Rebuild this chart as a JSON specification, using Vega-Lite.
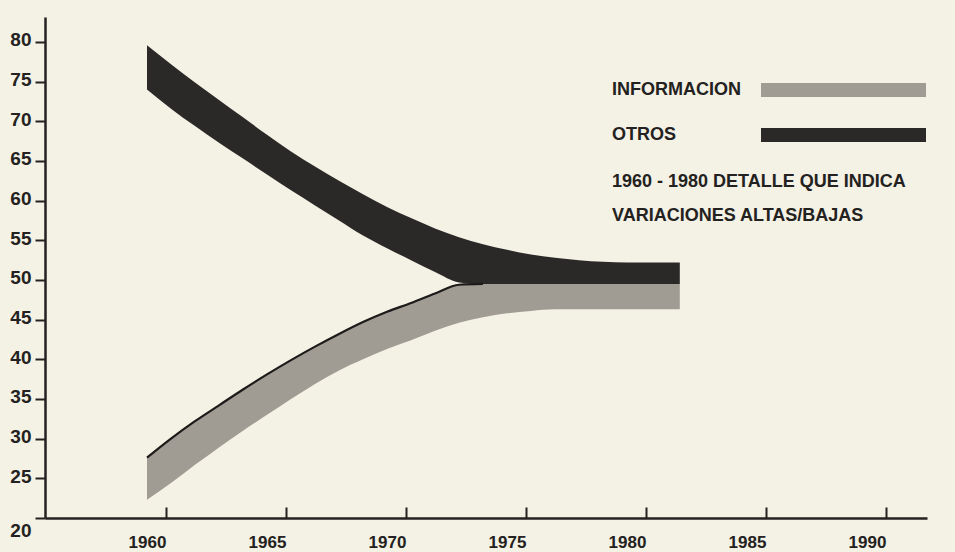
{
  "$schema": "https://vega.github.io/schema/vega-lite/v6.json",
  "width": 882,
  "height": 501,
  "autosize": {"type": "none"},
  "padding": {"left": 45, "top": 17, "right": 28, "bottom": 34},
  "background": "#f4f1e5",
  "title": {
    "text": ["1960 - 1980 DETALLE QUE INDICA", "VARIACIONES ALTAS/BAJAS"],
    "orient": "top",
    "anchor": "start",
    "frame": "group",
    "baseline": "top",
    "offset": 0,
    "dx": 567,
    "dy": 208,
    "lineHeight": 34,
    "font": "Liberation Sans",
    "fontSize": 18,
    "fontWeight": "bold",
    "color": "#232220"
  },
  "config": {
    "view": {"stroke": null},
    "axis": {
      "domainColor": "#232220",
      "domainWidth": 2.5,
      "tickColor": "#232220",
      "tickWidth": 2,
      "labelColor": "#232220",
      "labelFont": "Liberation Sans",
      "labelFontWeight": "bold",
      "labelFontSize": 18,
      "grid": false,
      "title": null
    },
    "legend": {
      "orient": "none",
      "legendX": 715,
      "legendY": 64,
      "direction": "vertical",
      "padding": 0,
      "symbolType": "M-1,-0.875H19.625V0.875H-1Z",
      "symbolSize": 256,
      "symbolStrokeWidth": 0,
      "symbolOpacity": 1,
      "rowPadding": 27,
      "labelAlign": "left",
      "labelBaseline": "middle",
      "labelOffset": -166,
      "labelFont": "Liberation Sans",
      "labelFontWeight": "bold",
      "labelFontSize": 18,
      "labelColor": "#232220",
      "labelLimit": 0
    }
  },
  "datasets": {
    "bands": [
      {"serie": "OTROS", "year": 1960, "high": 79.6, "low": 74.0},
      {"serie": "OTROS", "year": 1961, "high": 77.2, "low": 71.6},
      {"serie": "OTROS", "year": 1962, "high": 74.9, "low": 69.4},
      {"serie": "OTROS", "year": 1963, "high": 72.7, "low": 67.3},
      {"serie": "OTROS", "year": 1964, "high": 70.5, "low": 65.3},
      {"serie": "OTROS", "year": 1965, "high": 68.3, "low": 63.3},
      {"serie": "OTROS", "year": 1966, "high": 66.2, "low": 61.3},
      {"serie": "OTROS", "year": 1967, "high": 64.3, "low": 59.4},
      {"serie": "OTROS", "year": 1968, "high": 62.5, "low": 57.5},
      {"serie": "OTROS", "year": 1969, "high": 60.8, "low": 55.6},
      {"serie": "OTROS", "year": 1970, "high": 59.2, "low": 54.0},
      {"serie": "OTROS", "year": 1971, "high": 57.8, "low": 52.5},
      {"serie": "OTROS", "year": 1972, "high": 56.5, "low": 51.0},
      {"serie": "OTROS", "year": 1973, "high": 55.4, "low": 49.7},
      {"serie": "OTROS", "year": 1974, "high": 54.5, "low": 49.5},
      {"serie": "OTROS", "year": 1975, "high": 53.8, "low": 49.5},
      {"serie": "OTROS", "year": 1976, "high": 53.2, "low": 49.5},
      {"serie": "OTROS", "year": 1977, "high": 52.8, "low": 49.5},
      {"serie": "OTROS", "year": 1978, "high": 52.5, "low": 49.5},
      {"serie": "OTROS", "year": 1979, "high": 52.3, "low": 49.5},
      {"serie": "OTROS", "year": 1980, "high": 52.2, "low": 49.5},
      {"serie": "OTROS", "year": 1981, "high": 52.2, "low": 49.5},
      {"serie": "OTROS", "year": 1982.2, "high": 52.2, "low": 49.5},
      {"serie": "INFORMACION", "year": 1960, "high": 27.6, "low": 22.3},
      {"serie": "INFORMACION", "year": 1961, "high": 30.0, "low": 24.4},
      {"serie": "INFORMACION", "year": 1962, "high": 32.2, "low": 26.7},
      {"serie": "INFORMACION", "year": 1963, "high": 34.2, "low": 28.9},
      {"serie": "INFORMACION", "year": 1964, "high": 36.2, "low": 31.0},
      {"serie": "INFORMACION", "year": 1965, "high": 38.1, "low": 33.0},
      {"serie": "INFORMACION", "year": 1966, "high": 39.9, "low": 35.0},
      {"serie": "INFORMACION", "year": 1967, "high": 41.6, "low": 36.9},
      {"serie": "INFORMACION", "year": 1968, "high": 43.2, "low": 38.6},
      {"serie": "INFORMACION", "year": 1969, "high": 44.7, "low": 40.0},
      {"serie": "INFORMACION", "year": 1970, "high": 46.0, "low": 41.3},
      {"serie": "INFORMACION", "year": 1971, "high": 47.1, "low": 42.4},
      {"serie": "INFORMACION", "year": 1972, "high": 48.3, "low": 43.6},
      {"serie": "INFORMACION", "year": 1973, "high": 49.4, "low": 44.6},
      {"serie": "INFORMACION", "year": 1974, "high": 49.5, "low": 45.3},
      {"serie": "INFORMACION", "year": 1975, "high": 49.5, "low": 45.8},
      {"serie": "INFORMACION", "year": 1976, "high": 49.5, "low": 46.1},
      {"serie": "INFORMACION", "year": 1977, "high": 49.5, "low": 46.3},
      {"serie": "INFORMACION", "year": 1978, "high": 49.5, "low": 46.3},
      {"serie": "INFORMACION", "year": 1979, "high": 49.5, "low": 46.3},
      {"serie": "INFORMACION", "year": 1980, "high": 49.5, "low": 46.3},
      {"serie": "INFORMACION", "year": 1981, "high": 49.5, "low": 46.3},
      {"serie": "INFORMACION", "year": 1982.2, "high": 49.5, "low": 46.3}
    ]
  },
  "data": {"name": "bands"},
  "encoding": {
    "x": {
      "field": "year",
      "type": "quantitative",
      "scale": {"domain": [1955.75, 1992.5], "nice": false, "zero": false},
      "axis": {
        "values": [1960, 1965, 1970, 1975, 1980, 1985, 1990],
        "format": "d",
        "tickSize": -11,
        "tickOffset": 19,
        "labelOffset": -19,
        "labelPadding": 27,
        "labelFontSize": 17,
        "labelFlush": false
      }
    }
  },
  "layer": [
    {
      "transform": [{"filter": "datum.serie === 'OTROS'"}],
      "mark": {"type": "area", "opacity": 1, "interpolate": "monotone"},
      "encoding": {
        "y": {
          "field": "high",
          "type": "quantitative",
          "stack": null,
          "scale": {"domain": [20, 83.15], "nice": false, "zero": false},
          "axis": {
            "values": [20, 25, 30, 35, 40, 45, 50, 55, 60, 65, 70, 75, 80],
            "tickSize": 10,
            "labelPadding": 4,
            "labelFontSize": 19,
            "labelBaseline": "middle",
            "labelOffset": {"condition": {"test": "datum.value === 20", "value": 12}, "value": -2}
          }
        },
        "y2": {"field": "low"},
        "fill": {
          "field": "serie",
          "type": "nominal",
          "scale": {"domain": ["INFORMACION", "OTROS"], "range": ["#a09c94", "#2a2927"]},
          "legend": {"title": null}
        }
      }
    },
    {
      "transform": [{"filter": "datum.serie === 'INFORMACION'"}],
      "mark": {"type": "area", "opacity": 1, "interpolate": "monotone"},
      "encoding": {
        "y": {"field": "high", "type": "quantitative", "stack": null},
        "y2": {"field": "low"},
        "fill": {"field": "serie", "type": "nominal"}
      }
    },
    {
      "transform": [{"filter": "datum.serie === 'INFORMACION' && datum.year <= 1974"}],
      "mark": {"type": "line", "color": "#1c1b1a", "strokeWidth": 2.2, "interpolate": "monotone"},
      "encoding": {
        "y": {"field": "high", "type": "quantitative"}
      }
    }
  ]
}
